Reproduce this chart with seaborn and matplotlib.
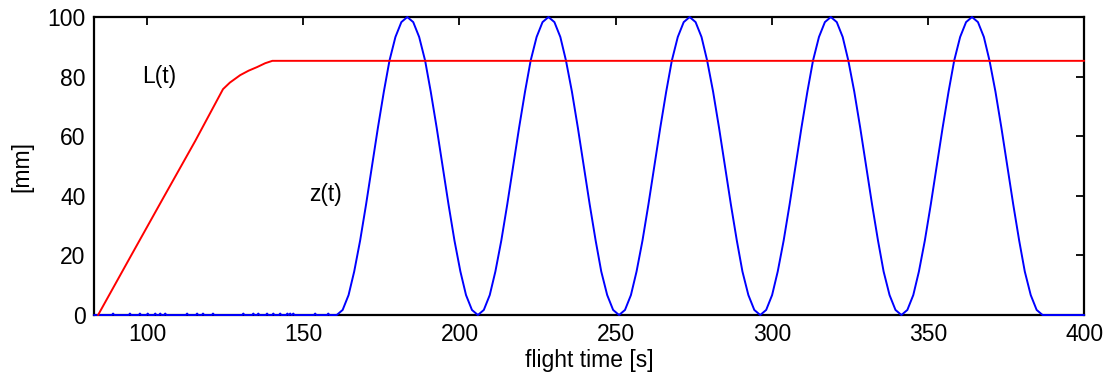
import numpy as np
import pandas as pd
import matplotlib
matplotlib.use("Agg")
import matplotlib.pyplot as plt
import seaborn as sns

# ---- data ----
L_t = [84.3, 94.9, 104.8, 115.4, 124.3, 126.5, 129.8, 132.5, 135.2, 137.8, 140.1, 400.0]
L_v = [0.0, 20.0, 38.6, 58.4, 75.8, 78.0, 80.5, 82.0, 83.2, 84.5, 85.3, 85.3]

# small blips on the zero line before the oscillation starts
blip_t = [89.1, 94.5, 97.7, 100.2, 102.6, 104.2, 105.8, 112.8, 116.0, 117.9, 121.1,
          130.8, 134.0, 135.6, 138.4, 140.4, 142.6, 144.9, 145.8, 146.8, 153.8, 158.0]
blip_h = [0.5] * len(blip_t)

z_t = [
    160.7, 162.6, 164.5, 166.3, 168.2, 170.1, 172.0, 173.9, 175.8, 177.6, 179.5, 181.4,
    183.3, 185.2, 187.1, 189.0, 190.8, 192.7, 194.6, 196.5, 198.4, 200.3, 202.1, 204.0,
    205.9, 207.8, 209.7, 211.5, 213.4, 215.3, 217.2, 219.1, 221.0, 222.8, 224.7, 226.6,
    228.5, 230.4, 232.3, 234.1, 236.0, 237.9, 239.8, 241.7, 243.6, 245.4, 247.3, 249.2,
    251.1, 253.0, 254.9, 256.7, 258.6, 260.5, 262.4, 264.3, 266.2, 268.0, 269.9, 271.8,
    273.7, 275.6, 277.5, 279.3, 281.2, 283.1, 285.0, 286.9, 288.8, 290.6, 292.5, 294.4,
    296.3, 298.2, 300.1, 301.9, 303.8, 305.7, 307.6, 309.5, 311.4, 313.2, 315.1, 317.0,
    318.9, 320.8, 322.7, 324.5, 326.4, 328.3, 330.2, 332.1, 334.0, 335.8, 337.7, 339.6,
    341.5, 343.4, 345.3, 347.1, 349.0, 350.9, 352.8, 354.7, 356.6, 358.4, 360.3, 362.2,
    364.1, 366.0, 367.9, 369.7, 371.6, 373.5, 375.4, 377.3, 379.2, 381.0, 382.9, 384.8,
    386.7, 400.0,
]
z_v = [
    0.0, 1.7, 6.7, 14.6, 25.0, 37.1, 50.0, 62.9, 75.0, 85.4, 93.3, 98.3,
    100.0, 98.3, 93.3, 85.4, 75.0, 62.9, 50.0, 37.1, 25.0, 14.6, 6.7, 1.7,
    0.0, 1.7, 6.7, 14.6, 25.0, 37.1, 50.0, 62.9, 75.0, 85.4, 93.3, 98.3,
    100.0, 98.3, 93.3, 85.4, 75.0, 62.9, 50.0, 37.1, 25.0, 14.6, 6.7, 1.7,
    0.0, 1.7, 6.7, 14.6, 25.0, 37.1, 50.0, 62.9, 75.0, 85.4, 93.3, 98.3,
    100.0, 98.3, 93.3, 85.4, 75.0, 62.9, 50.0, 37.1, 25.0, 14.6, 6.7, 1.7,
    0.0, 1.7, 6.7, 14.6, 25.0, 37.1, 50.0, 62.9, 75.0, 85.4, 93.3, 98.3,
    100.0, 98.3, 93.3, 85.4, 75.0, 62.9, 50.0, 37.1, 25.0, 14.6, 6.7, 1.7,
    0.0, 1.7, 6.7, 14.6, 25.0, 37.1, 50.0, 62.9, 75.0, 85.4, 93.3, 98.3,
    100.0, 98.3, 93.3, 85.4, 75.0, 62.9, 50.0, 37.1, 25.0, 14.6, 6.7, 1.7,
    0.0, 0.0,
]

x_ticks = [100, 150, 200, 250, 300, 350, 400]
y_ticks = [0, 20, 40, 60, 80, 100]

# ---- build blue series: flat zero with blips, then oscillation ----
zt_full = [83.0]
zv_full = [0.0]
for t, h in zip(blip_t, blip_h):
    zt_full += [t - 0.35, t, t + 0.35]
    zv_full += [0.0, h, 0.0]
zt_full += z_t
zv_full += z_v

dfL = pd.DataFrame({"t": L_t, "v": L_v})
dfZ = pd.DataFrame({"t": zt_full, "v": zv_full})

sns.set_style("white")
plt.rcParams["font.family"] = ["Liberation Sans", "DejaVu Sans"]
plt.rcParams["text.color"] = "black"
plt.rcParams["axes.labelcolor"] = "black"

fig = plt.figure(figsize=(11.1, 3.87), dpi=100)
ax = fig.add_axes([0.0847, 0.186, 0.892, 0.770])

sns.lineplot(data=dfL, x="t", y="v", ax=ax, color="#ff0000", linewidth=1.4,
             sort=False, estimator=None, zorder=4, clip_on=False)
sns.lineplot(data=dfZ, x="t", y="v", ax=ax, color="#0000ff", linewidth=1.4,
             sort=False, estimator=None, zorder=3, clip_on=False)

ax.set_xlim(83, 400)
ax.set_ylim(0, 100)
ax.set_xticks(x_ticks)
ax.set_yticks(y_ticks)
ax.tick_params(direction="in", length=6, width=1.3, top=True, right=True,
               labelsize=16.5, colors="black", labelcolor="black", pad=6)
for s in ax.spines.values():
    s.set_visible(True)
    s.set_color("black")
    s.set_linewidth(1.6)

ax.set_xlabel("flight time [s]", fontsize=16.5, labelpad=2, color="black")
ax.set_ylabel("[mm]", fontsize=16.5, labelpad=10, color="black")

ax.text(104, 80, "L(t)", fontsize=16.5, ha="center", va="center", color="black")
ax.text(157, 40.5, "z(t)", fontsize=16.5, ha="center", va="center", color="black")

fig.savefig("out.png", dpi=100, facecolor="white")
